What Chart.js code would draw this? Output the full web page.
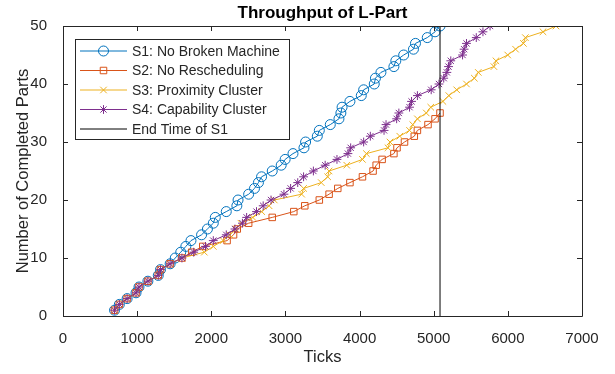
<!DOCTYPE html>
<html>
<head>
<meta charset="utf-8">
<script src="https://cdn.jsdelivr.net/npm/chart.js@4/dist/chart.umd.min.js"></script>
<style>
    body { margin: 0; background: #fff; }
</style>
</head>
<body>
<canvas id="throughputChart" width="615" height="374"></canvas>
<script>
// completed part counts (y axis)
var partCounts = [1, 2, 3, 4, 5, 6, 7, 8, 9, 10, 11, 12, 13, 14, 15, 16, 17, 18, 19, 20,
    21, 22, 23, 24, 25, 26, 27, 28, 29, 30, 31, 32, 33, 34, 35, 36, 37, 38, 39, 40,
    41, 42, 43, 44, 45, 46, 47, 48, 49, 50];

// tick at which each part was completed
var s1Ticks = [695, 760, 865, 985, 1025, 1145, 1285, 1315, 1445, 1514, 1588, 1657, 1726, 1869, 1948, 2027, 2054, 2202, 2345, 2361,
    2504, 2583, 2636, 2678, 2822, 2943, 2996, 3102, 3250, 3272, 3430, 3457, 3605, 3722, 3748, 3764, 3870, 4023, 4055, 4198,
    4214, 4288, 4463, 4489, 4595, 4727, 4754, 4913, 5018, 5085];
var s2Ticks = [695, 760, 865, 985, 1025, 1145, 1285, 1315, 1445, 1604, 1736, 1885, 2213, 2300, 2350, 2504, 2822, 3113, 3261, 3457,
    3589, 3706, 3870, 4039, 4182, 4224, 4304, 4463, 4505, 4606, 4738, 4780, 4923, 5018, 5085];
var s3Ticks = [695, 760, 865, 985, 1025, 1145, 1285, 1315, 1445, 1604, 1906, 2027, 2160, 2250, 2330, 2400, 2560, 2680, 2780, 2850,
    3219, 3245, 3483, 3570, 3589, 3827, 4039, 4092, 4383, 4410, 4542, 4674, 4717, 4780, 4900, 4960, 5124, 5204, 5310, 5442,
    5548, 5601, 5812, 5839, 5998, 6104, 6210, 6236, 6474, 6649];
var s4Ticks = [695, 760, 865, 985, 1025, 1145, 1285, 1315, 1445, 1604, 1763, 1922, 2027, 2202, 2319, 2420, 2477, 2610, 2700, 2806,
    2980, 3070, 3166, 3245, 3377, 3536, 3695, 3843, 3880, 4055, 4145, 4330, 4357, 4500, 4530, 4674, 4701, 4780, 4966, 5071,
    5135, 5177, 5200, 5230, 5389, 5410, 5442, 5574, 5664, 5760];
var endTimeS1 = [5085, 5085];
var endTimeParts = [0, 50];

var seriesNames = ['S1: No Broken Machine', 'S2: No Rescheduling', 'S3: Proximity Cluster', 'S4: Capability Cluster', 'End Time of S1'];
var seriesColors = ['#0072BD', '#D95319', '#EDB120', '#7E2F8E', '#000000'];
var seriesMarkers = ['circle', 'rect', 'crossRot', 'star', false];
var markerSizes = [5, 4.6, 4.6, 4.4, 0];

var axisColor = '#262626';
var fontFamily = '"Liberation Sans", Arial, Helvetica, sans-serif';

function toPoints(xs, ys) {
    return xs.map(function (x, i) { return { x: x, y: ys[i] }; });
}

var allTicks = [s1Ticks, s2Ticks, s3Ticks, s4Ticks, endTimeS1];
var datasets = allTicks.map(function (xs, i) {
    var ys = i === 4 ? endTimeParts : partCounts;
    return {
        label: seriesNames[i],
        data: toPoints(xs, ys),
        showLine: true,
        borderColor: seriesColors[i],
        backgroundColor: 'rgba(0,0,0,0)',
        borderWidth: 1,
        pointStyle: seriesMarkers[i],
        pointRadius: markerSizes[i],
        pointBorderColor: seriesColors[i],
        pointBackgroundColor: 'rgba(0,0,0,0)',
        pointBorderWidth: 1,
        order: i === 4 ? 0 : 4 - i
    };
});

// box, inward ticks, title and legend in MATLAB style
var matlabFrame = {
    id: 'matlabFrame',
    afterDraw: function (chart) {
        var ctx = chart.ctx;
        var a = chart.chartArea;
        var xs = chart.scales.x, ys = chart.scales.y;
        ctx.save();
        ctx.strokeStyle = axisColor;
        ctx.lineWidth = 1;
        ctx.beginPath();
        ctx.rect(Math.round(a.left) + 0.5, Math.round(a.top) + 0.5, Math.round(a.right - a.left), Math.round(a.bottom - a.top));
        xs.ticks.forEach(function (t) {
            var px = Math.round(xs.getPixelForValue(t.value)) + 0.5;
            ctx.moveTo(px, a.bottom); ctx.lineTo(px, a.bottom - 5);
            ctx.moveTo(px, a.top); ctx.lineTo(px, a.top + 5);
        });
        ys.ticks.forEach(function (t) {
            var py = Math.round(ys.getPixelForValue(t.value)) + 0.5;
            ctx.moveTo(a.left, py); ctx.lineTo(a.left + 5, py);
            ctx.moveTo(a.right, py); ctx.lineTo(a.right - 5, py);
        });
        ctx.stroke();

        // title
        ctx.fillStyle = '#000';
        ctx.font = 'bold 17px ' + fontFamily;
        ctx.textAlign = 'center';
        ctx.textBaseline = 'middle';
        ctx.fillText('Throughput of L-Part', (a.left + a.right) / 2, 13);

        // legend
        var lx = 75.5, ly = 39.5, lw = 214, lh = 100;
        ctx.fillStyle = '#fff';
        ctx.fillRect(lx, ly, lw, lh);
        ctx.strokeStyle = axisColor;
        ctx.strokeRect(lx, ly, lw, lh);
        ctx.font = '14px ' + fontFamily;
        ctx.textAlign = 'left';
        seriesNames.forEach(function (name, i) {
            var ry = 51 + i * 19.5;
            ctx.strokeStyle = seriesColors[i];
            ctx.lineWidth = 1;
            ctx.beginPath();
            ctx.moveTo(80, ry);
            ctx.lineTo(127, ry);
            ctx.stroke();
            if (seriesMarkers[i]) {
                ctx.fillStyle = 'rgba(0,0,0,0)';
                Chart.helpers.drawPoint(ctx, {
                    pointStyle: seriesMarkers[i],
                    radius: markerSizes[i],
                    rotation: 0,
                    borderWidth: 1
                }, 103.5, ry);
            }
            ctx.fillStyle = axisColor;
            ctx.fillText(name, 132, ry + 1);
        });
        ctx.restore();
    }
};

function plainTick(value) {
    return String(value);
}

new Chart(document.getElementById('throughputChart'), {
    type: 'scatter',
    data: { datasets: datasets },
    options: {
        responsive: false,
        animation: false,
        layout: { padding: { top: 26, right: 33, bottom: 0, left: 0 } },
        plugins: {
            legend: { display: false },
            tooltip: { enabled: false },
            title: { display: false }
        },
        scales: {
            x: {
                type: 'linear',
                min: 0,
                max: 7000,
                ticks: { stepSize: 1000, color: axisColor, font: { family: fontFamily, size: 15 }, padding: 6, maxRotation: 0, callback: plainTick },
                grid: { display: false },
                border: { display: false },
                title: { display: true, text: 'Ticks', color: axisColor, font: { family: fontFamily, size: 16.5 }, padding: { top: 0, bottom: 7 } },
                afterFit: function (s) { s.height = 58; }
            },
            y: {
                min: 0,
                max: 50,
                ticks: { stepSize: 10, color: axisColor, font: { family: fontFamily, size: 15 }, padding: 8, callback: plainTick },
                grid: { display: false },
                border: { display: false },
                title: { display: true, text: 'Number of Completed Parts', color: axisColor, font: { family: fontFamily, size: 16.5 }, padding: { top: 14, bottom: 0 } },
                afterFit: function (s) { s.width = 63; }
            }
        }
    },
    plugins: [matlabFrame]
});
</script>
</body>
</html>
